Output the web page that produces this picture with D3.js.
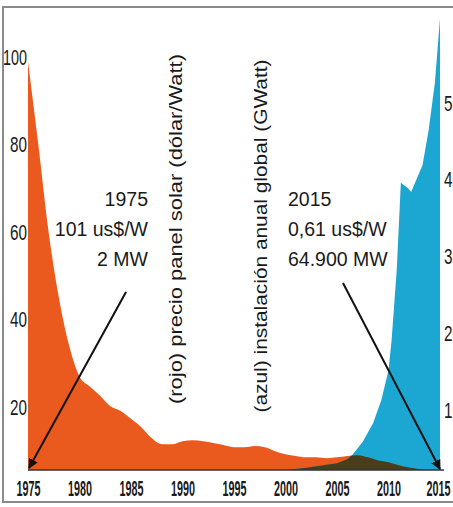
<!DOCTYPE html>
<html>
<head>
<meta charset="utf-8">
<script src="https://cdn.jsdelivr.net/npm/d3@7"></script>
<style>
  html, body { margin: 0; padding: 0; background: #fff; }
  svg { display: block; }
</style>
</head>
<body>
<div id="chart"></div>
<script>
// price of a solar panel (us$/W), one value per year 1975..2015
const priceYears = [1975, 1976, 1977, 1978, 1979, 1980, 1981, 1982, 1983, 1984,
    1985, 1986, 1987, 1988, 1989, 1990, 1991, 1992, 1993, 1994,
    1995, 1996, 1997, 1998, 1999, 2000, 2001, 2002, 2003, 2004,
    2005, 2006, 2007, 2008, 2009, 2010, 2011, 2012, 2013, 2014, 2015];
const priceValues = [99, 80, 60, 45, 34, 27, 24.7, 22.6, 20.2, 19.1,
    17.3, 15.4, 12.9, 11.5, 11.5, 12.2, 12.4, 12.2, 11.8, 11.3,
    10.8, 10.8, 11.1, 10.8, 9.9, 9.2, 8.8, 8.5, 8.5, 8.3,
    8.5, 8.8, 9.0, 8.5, 7.8, 7.4, 6.7, 6.2, 5.8, 5.3, 5.0];

// global annual installation (GWatt)
const installYears = [1975, 1999, 2000, 2002, 2004, 2005, 2006, 2006.5, 2007.5, 2008.5,
    2009.3, 2010, 2010.3, 2010.8, 2011.2, 2011.9, 2012.2, 2012.7, 2013.3, 2013.9, 2014.5, 2015];
const installValues = [0, 0, 2.2, 2.5, 2.9, 3.1, 3.6, 4.2, 5.9, 8.3,
    11.3, 15.2, 19.1, 28.3, 39.6, 38.9, 38.4, 40, 41.9, 46.5, 52.6, 61];

const xTicks = [1975, 1980, 1985, 1990, 1995, 2000, 2005, 2010, 2015];
const priceTicks = [20, 40, 60, 80, 100];
const installTicks = [10, 20, 30, 40, 50];

const leftNote = ["1975", "101 us$/W", "2 MW"];
const rightNote = ["2015", "0,61 us$/W", "64.900 MW"];
const priceTitle = "(rojo) precio panel solar (dólar/Watt)";
const installTitle = "(azul) instalación anual global (GWatt)";

const W = 453, H = 507;
const baseY = 470;

const svg = d3.select("#chart").append("svg")
    .attr("width", W).attr("height", H);

const x = d3.scaleLinear().domain([1975, 2015]).range([28, 440]);
const yPrice = d3.scaleLinear().domain([0, 100]).range([494.5, 57]);
const yInstall = d3.scaleLinear().domain([0, 50]).range([487, 103]);

const price = priceYears.map((d, i) => ({ year: d, v: priceValues[i] }));
const install = installYears.map((d, i) => ({ year: d, v: installValues[i] }));

const priceArea = d3.area()
    .curve(d3.curveMonotoneX)
    .x(d => x(d.year)).y0(yPrice(0)).y1(d => yPrice(d.v));
const installArea = d3.area()
    .x(d => x(d.year)).y0(yInstall(0)).y1(d => yInstall(d.v));

const defs = svg.append("defs");
defs.append("clipPath").attr("id", "plotClip")
    .append("rect").attr("x", 0).attr("y", 0).attr("width", W).attr("height", baseY);
defs.append("clipPath").attr("id", "blueClip")
    .append("path").attr("d", installArea(install));
defs.append("marker").attr("id", "arrow")
    .attr("viewBox", "0 0 10 10").attr("refX", 9).attr("refY", 5)
    .attr("markerWidth", 5).attr("markerHeight", 5).attr("orient", "auto")
    .append("path").attr("d", "M0,0L10,5L0,10z").attr("fill", "#111");

// frame
svg.append("rect").attr("x", 3).attr("y", 7).attr("width", W + 10).attr("height", 495)
    .attr("fill", "none").attr("stroke", "#8a8a8a").attr("stroke-width", 2);

const plot = svg.append("g").attr("clip-path", "url(#plotClip)");

plot.append("path").attr("d", priceArea(price)).attr("fill", "#ea5a1e");
plot.append("path").attr("d", installArea(install)).attr("fill", "#1ba7d1");
// overlap of both areas
plot.append("g").attr("clip-path", "url(#blueClip)")
    .append("path").attr("d", priceArea(price)).attr("fill", "#4a3d1c");

// baseline
svg.append("line")
    .attr("x1", x(1975)).attr("x2", x(2015) + 4)
    .attr("y1", baseY).attr("y2", baseY)
    .attr("stroke", "#333").attr("stroke-width", 1.5);

const tickFont = "'Liberation Sans Narrow', 'Liberation Sans', Arial, sans-serif";

// x axis
const xAxis = svg.append("g").attr("transform", `translate(0,${baseY})`)
    .call(d3.axisBottom(x).tickValues(xTicks).tickSize(0).tickFormat(d3.format("d")));
xAxis.select(".domain").remove();
xAxis.selectAll("text")
    .attr("y", 26).attr("dy", 0)
    .attr("dx", d => d === 2015 ? -2 : 0)
    .attr("font-family", tickFont).attr("font-size", 22).attr("font-weight", "bold")
    .attr("textLength", 24).attr("lengthAdjust", "spacingAndGlyphs")
    .attr("fill", "#1a1a1a");

// left axis (price)
const yAxisL = svg.append("g").attr("transform", `translate(${x(1975)},0)`)
    .call(d3.axisLeft(yPrice).tickValues(priceTicks).tickSize(0));
yAxisL.select(".domain").remove();
yAxisL.selectAll("text")
    .attr("x", -1)
    .attr("font-family", tickFont).attr("font-size", 22)
    .attr("textLength", d => d >= 100 ? 24 : 17).attr("lengthAdjust", "spacingAndGlyphs")
    .attr("fill", "#1a1a1a");

// right axis (installation), cut by the picture edge
const yAxisR = svg.append("g").attr("transform", `translate(${x(2015)},0)`)
    .call(d3.axisRight(yInstall).tickValues(installTicks).tickSize(0));
yAxisR.select(".domain").remove();
yAxisR.selectAll("text")
    .attr("x", 4)
    .attr("font-family", tickFont).attr("font-size", 22)
    .attr("textLength", 17).attr("lengthAdjust", "spacingAndGlyphs")
    .attr("fill", "#1a1a1a");

const noteFont = "'Liberation Sans', Arial, sans-serif";

// rotated series titles
svg.append("text")
    .attr("transform", "translate(182,229) rotate(-90)")
    .attr("text-anchor", "middle")
    .attr("font-family", noteFont).attr("font-size", 19)
    .attr("textLength", 350).attr("lengthAdjust", "spacingAndGlyphs")
    .attr("fill", "#1a1a1a")
    .text(priceTitle);

svg.append("text")
    .attr("transform", "translate(267,236) rotate(-90)")
    .attr("text-anchor", "middle")
    .attr("font-family", noteFont).attr("font-size", 19)
    .attr("textLength", 353).attr("lengthAdjust", "spacingAndGlyphs")
    .attr("fill", "#1a1a1a")
    .text(installTitle);

// notes
svg.append("g").selectAll("text").data(leftNote).enter().append("text")
    .attr("x", 148).attr("y", (d, i) => 206 + i * 30)
    .attr("text-anchor", "end")
    .attr("font-family", noteFont).attr("font-size", 19.5)
    .attr("fill", "#1a1a1a")
    .text(d => d);

svg.append("g").selectAll("text").data(rightNote).enter().append("text")
    .attr("x", 288).attr("y", (d, i) => 206 + i * 30)
    .attr("text-anchor", "start")
    .attr("font-family", noteFont).attr("font-size", 19.5)
    .attr("fill", "#1a1a1a")
    .text(d => d);

// arrows to the first and last year
svg.append("line")
    .attr("x1", 126).attr("y1", 292)
    .attr("x2", x(1975) + 1).attr("y2", baseY - 2)
    .attr("stroke", "#111").attr("stroke-width", 2)
    .attr("marker-end", "url(#arrow)");

svg.append("line")
    .attr("x1", 343).attr("y1", 283)
    .attr("x2", x(2015)).attr("y2", baseY - 1)
    .attr("stroke", "#111").attr("stroke-width", 2)
    .attr("marker-end", "url(#arrow)");
</script>
</body>
</html>
